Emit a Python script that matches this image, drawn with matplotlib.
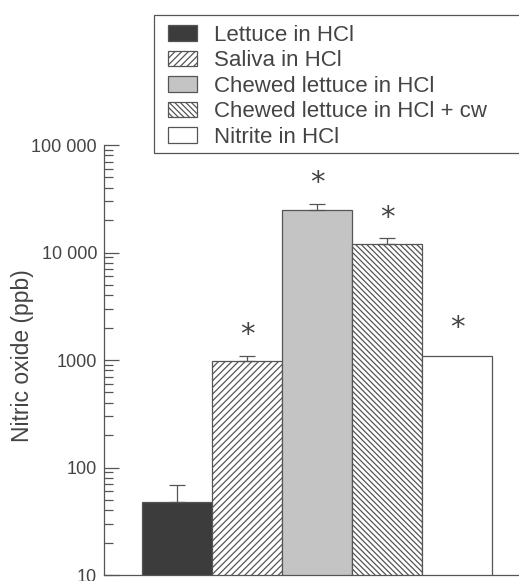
import numpy as np
import matplotlib.pyplot as plt
from matplotlib.patches import Rectangle, Patch
from matplotlib.ticker import FixedLocator, NullFormatter

plt.rcParams['font.family'] = ['Liberation Sans', 'DejaVu Sans']
plt.rcParams['hatch.color'] = '#555555'
plt.rcParams['hatch.linewidth'] = 0.9

# data
groups = ['Lettuce in HCl', 'Saliva in HCl', 'Chewed lettuce in HCl',
          'Chewed lettuce in HCl + cw', 'Nitrite in HCl']
values = [48, 980, 25000, 12100, 1100]
err_up = [21, 117, 3100, 1400, 0]
signif = [False, True, True, True, True]
ytick_vals = [10, 100, 1000, 10000, 100000]
ytick_labels = ['10', '100', '1000', '10 000', '100 000']

fills = ['#3c3c3c', 'white', '#c4c4c4', 'white', 'white']
hatches = [None, '/////', None, '\\\\\\\\\\\\', None]
ink = '#555555'
txt = '#444444'

W, H = 519, 581
fig = plt.figure(figsize=(W / 100, H / 100), dpi=100)
# axes: left spine at x=104 px, y from 145 px (1e5) to 575 px (10)
left, right = 104, 560
ax = fig.add_axes([left / W, (H - 575) / H, (right - left) / W, (575 - 145) / H])

bw = 70.0  # bar width in px
x = np.arange(len(values))
ax.bar(x, values, width=1.0, color=fills, edgecolor=ink, linewidth=0.9,
       hatch=hatches, zorder=2)
for i in range(len(values)):
    top = values[i] + err_up[i]
    if err_up[i] > 0:
        ax.errorbar(x[i], values[i], yerr=[[0], [err_up[i]]], fmt='none',
                    ecolor=ink, elinewidth=0.9, capsize=5.5, capthick=0.9,
                    zorder=3)
    if signif[i]:
        off = 15 if err_up[i] > 0 else 20
        ax.annotate('*', (x[i], top), xytext=(0, off),
                    textcoords='offset points', ha='center', va='center',
                    fontsize=21, color=txt, family='DejaVu Sans')

ax.set_yscale('log')
ax.set_ylim(10, 100000)
x0 = -0.5 - (142 - left) / bw
ax.set_xlim(x0, x0 + (right - left) / bw)
ax.yaxis.set_major_locator(FixedLocator(ytick_vals))
ax.set_yticklabels(ytick_labels)
ax.yaxis.set_minor_formatter(NullFormatter())
ax.tick_params(axis='y', which='major', direction='in', length=11, width=0.9,
               color=ink, labelsize=13, labelcolor=txt, pad=5)
ax.tick_params(axis='y', which='minor', direction='in', length=6.5,
               width=0.9, color=ink)
ax.set_xticks([])
for s in ['top', 'right']:
    ax.spines[s].set_visible(False)
for s in ['left', 'bottom']:
    ax.spines[s].set_color(ink)
    ax.spines[s].set_linewidth(0.9)
ax.set_ylabel('Nitric oxide (ppb)', fontsize=16.5, color=txt)
ax.yaxis.set_label_coords(-(104 - 34) / (right - left), 0.51)

# legend box, runs off the right edge like in the scan
fig.patches.append(Rectangle((154 / W, 1 - 153 / H), 400 / W, 138 / H,
                             transform=fig.transFigure, fill=False,
                             edgecolor=ink, linewidth=0.9))
handles = [Patch(facecolor=fills[i], edgecolor=ink, hatch=hatches[i],
                 linewidth=0.9) for i in range(len(groups))]
fig.legend(handles, groups, loc='upper left',
           bbox_to_anchor=(168 / W, 1 - 25 / H), frameon=False,
           fontsize=16, labelcolor=txt, handlelength=1.3, handleheight=0.7,
           handletextpad=0.75, labelspacing=0.2, borderpad=0, borderaxespad=0)

fig.savefig('out.png', dpi=100)
